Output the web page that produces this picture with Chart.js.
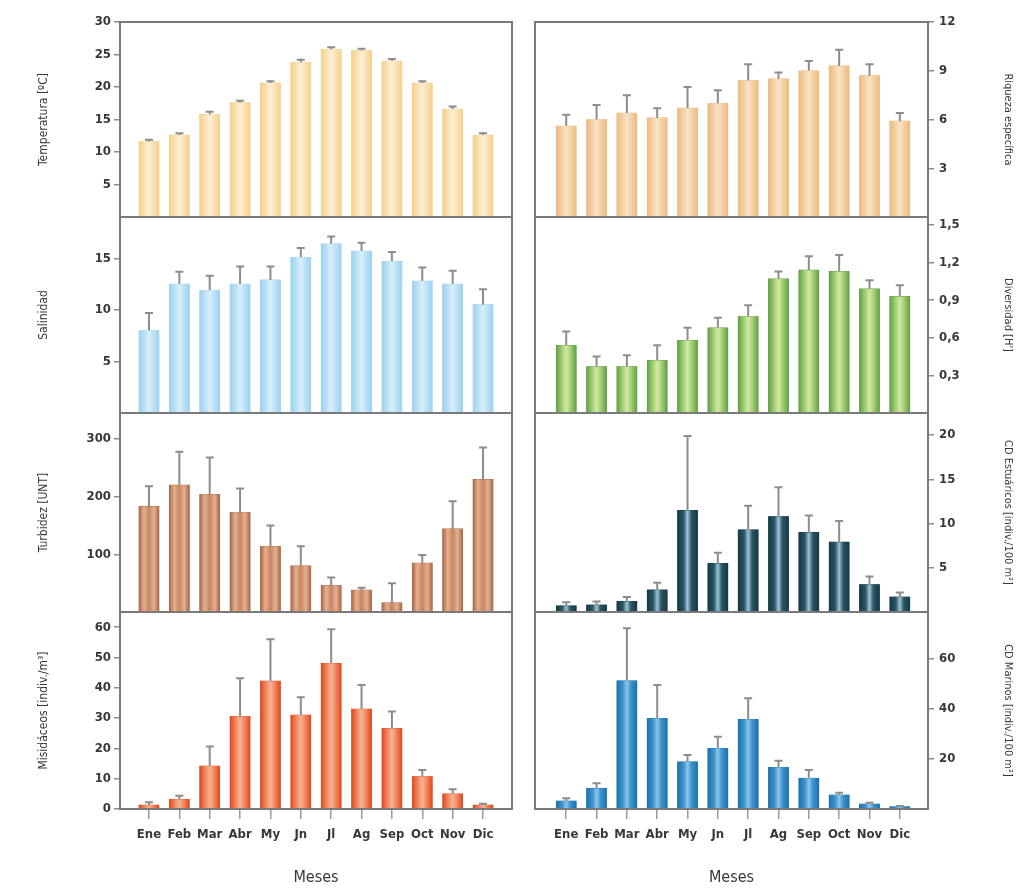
<!DOCTYPE html>
<html>
<head>
<meta charset="utf-8">
<script src="https://cdn.jsdelivr.net/npm/chart.js@4.4.1/dist/chart.umd.min.js"></script>
<style>
  html, body { margin: 0; padding: 0; background: #fff; }
  #wrap { position: relative; width: 1023px; height: 892px; overflow: hidden; }
  #wrap canvas { position: absolute; }
</style>
</head>
<body>
<div id="wrap"></div>
<script>
const months = ['Ene', 'Feb', 'Mar', 'Abr', 'My', 'Jn', 'Jl', 'Ag', 'Sep', 'Oct', 'Nov', 'Dic']

/* left column */
const temperatura = [11.6, 12.6, 15.8, 17.6, 20.6, 23.8, 25.8, 25.6, 24.0, 20.6, 16.6, 12.6]
const temperaturaErr = [0.3, 0.3, 0.4, 0.3, 0.3, 0.4, 0.3, 0.3, 0.3, 0.3, 0.4, 0.3]
const temperaturaTicks = [5, 10, 15, 20, 25, 30]

const salinidad = [8.0, 12.5, 11.9, 12.5, 12.9, 15.1, 16.4, 15.7, 14.7, 12.8, 12.5, 10.5]
const salinidadErr = [1.7, 1.2, 1.4, 1.7, 1.3, 0.9, 0.7, 0.8, 0.9, 1.3, 1.3, 1.5]
const salinidadTicks = [5, 10, 15]

const turbidez = [183, 220, 204, 173, 114, 80, 46, 38, 16, 85, 144, 230]
const turbidezErr = [35, 58, 64, 41, 36, 34, 14, 4, 34, 14, 48, 55]
const turbidezTicks = [100, 200, 300]

const misidaceos = [1.3, 3.2, 14.2, 30.5, 42.2, 31.0, 48.1, 33.0, 26.6, 10.7, 5.0, 1.3]
const misidaceosErr = [0.9, 1.2, 6.4, 12.6, 13.8, 5.9, 11.2, 7.9, 5.6, 2.2, 1.5, 0.4]
const misidaceosTicks = [0, 10, 20, 30, 40, 50, 60]

/* right column */
const riqueza = [5.6, 6.0, 6.4, 6.1, 6.7, 7.0, 8.4, 8.5, 9.0, 9.3, 8.7, 5.9]
const riquezaErr = [0.7, 0.9, 1.1, 0.6, 1.3, 0.8, 1.0, 0.4, 0.6, 1.0, 0.7, 0.5]
const riquezaTicks = [3, 6, 9, 12]

const diversidad = [0.54, 0.37, 0.37, 0.42, 0.58, 0.68, 0.77, 1.07, 1.14, 1.13, 0.99, 0.93]
const diversidadErr = [0.11, 0.08, 0.09, 0.12, 0.10, 0.08, 0.09, 0.06, 0.11, 0.13, 0.07, 0.09]
const diversidadTicks = [0.3, 0.6, 0.9, 1.2, 1.5]

const estuaricos = [0.7, 0.8, 1.2, 2.5, 11.5, 5.5, 9.3, 10.8, 9.0, 7.9, 3.1, 1.7]
const estuaricosErr = [0.4, 0.4, 0.5, 0.8, 8.4, 1.2, 2.7, 3.3, 1.9, 2.4, 0.9, 0.5]
const estuaricosTicks = [5, 10, 15, 20]

const marinos = [3.2, 8.3, 51.3, 36.3, 18.9, 24.3, 35.9, 16.7, 12.3, 5.6, 2.0, 0.9]
const marinosErr = [1.1, 2.0, 21.0, 13.3, 2.7, 4.6, 8.4, 2.6, 3.3, 0.9, 0.5, 0.3]
const marinosTicks = [20, 40, 60]

const wrap = document.getElementById('wrap')
const FONT = "'DejaVu Sans Condensed', 'Roboto', sans-serif"
const TEXT = '#383838'
const LINE = '#7a7a7a'
const PAD = 18

// page rows of the plot areas (top, height)
const rows = [[22, 195], [217, 196], [413, 199], [612, 197]]

/* bars get a light stripe down the middle, then the error whisker on top */
function barLook(p) {
    return {
        id: 'barLook',
        afterDatasetsDraw(chart) {
            const ctx = chart.ctx
            const meta = chart.getDatasetMeta(0)
            const y = chart.scales.y
            ctx.save()
            meta.data.forEach(function (bar) {
                const left = bar.x - bar.width / 2
                const g = ctx.createLinearGradient(left, 0, left + bar.width, 0)
                p.colors.forEach(function (s) { g.addColorStop(s[0], s[1]) })
                ctx.fillStyle = g
                ctx.fillRect(left, Math.min(bar.y, bar.base), bar.width, Math.abs(bar.base - bar.y))
            })
            ctx.strokeStyle = '#8d8d8d'
            ctx.lineWidth = 2
            meta.data.forEach(function (bar, i) {
                const yTop = y.getPixelForValue(p.values[i] + p.err[i])
                ctx.beginPath()
                ctx.moveTo(bar.x, bar.y)
                ctx.lineTo(bar.x, yTop)
                ctx.moveTo(bar.x - 4, yTop)
                ctx.lineTo(bar.x + 4, yTop)
                ctx.stroke()
            })
            ctx.restore()
        },
        afterDraw(chart) {
            const a = chart.chartArea
            const ctx = chart.ctx
            ctx.save()
            ctx.strokeStyle = LINE
            ctx.lineWidth = 2
            ctx.strokeRect(a.left, a.top, a.right - a.left, a.bottom - a.top)
            ctx.restore()
        }
    }
}

function panel(p) {
    const right = p.col === 1
    const last = p.row === 3
    const top = rows[p.row][0] - PAD
    const h = last ? 892 - top : rows[p.row][1] + 2 * PAD
    const w = right ? 503 : 520
    const c = document.createElement('canvas')
    c.width = w
    c.height = h
    c.style.left = (right ? 520 : 0) + 'px'
    c.style.top = top + 'px'
    wrap.appendChild(c)

    new Chart(c, {
        type: 'bar',
        data: {
            datasets: [{
                data: p.values.map(function (v, i) { return { x: i, y: v } }),
                backgroundColor: p.colors[0][1],
                borderWidth: 0,
                barThickness: 20
            }]
        },
        options: {
            responsive: false,
            animation: false,
            events: [],
            layout: {
                padding: { top: PAD, bottom: last ? 0 : PAD, left: right ? 15 : 30, right: right ? 7 : 8 }
            },
            plugins: { legend: { display: false }, tooltip: { enabled: false } },
            scales: {
                x: {
                    type: 'linear',
                    offset: false,
                    min: right ? -1.03 : -0.954,
                    max: right ? 11.93 : 11.954,
                    display: last,
                    afterBuildTicks: function (s) { s.ticks = months.map(function (m, i) { return { value: i } }) },
                    afterFit: function (s) { if (last) s.height = 83 },
                    grid: { offset: false, drawOnChartArea: false, tickLength: 10, color: '#9a9a9a', lineWidth: 1.5 },
                    border: { display: false },
                    ticks: {
                        autoSkip: false, maxRotation: 0, padding: 8, color: TEXT,
                        font: { family: FONT, size: 13, weight: 'bold' },
                        callback: function (v) { return months[v] }
                    },
                    title: {
                        display: true, text: 'Meses', color: TEXT,
                        font: { family: FONT, size: 16 },
                        padding: { top: 0, bottom: 5 }
                    }
                },
                y: {
                    position: right ? 'right' : 'left',
                    min: 0,
                    max: p.max,
                    afterBuildTicks: function (s) { s.ticks = p.ticks.map(function (v) { return { value: v } }) },
                    afterFit: function (s) { s.width = right ? 88 : 90 },
                    grid: { drawOnChartArea: false, tickLength: 6, color: '#8a8a8a', lineWidth: 1.5 },
                    border: { display: false },
                    ticks: {
                        padding: right ? 5 : 3, color: TEXT,
                        font: { family: FONT, size: 13, weight: 'bold' },
                        callback: function (v) { return String(v).replace('.', ',') }
                    },
                    title: {
                        display: true, text: p.title, color: TEXT,
                        font: { family: FONT, size: right ? 11 : 12 },
                        padding: { top: right ? 2 : 7, bottom: 0 }
                    }
                }
            }
        },
        plugins: [barLook(p)]
    })
}

panel({ col: 0, row: 0, title: 'Temperatura [ºC]', values: temperatura, err: temperaturaErr, ticks: temperaturaTicks, max: 30,
    colors: [[0, '#f5d08c'], [0.3, '#fae3b6'], [0.5, '#fdf0d6'], [0.7, '#fae3b6'], [1, '#f5d08c']] })
panel({ col: 0, row: 1, title: 'Salinidad', values: salinidad, err: salinidadErr, ticks: salinidadTicks, max: 19,
    colors: [[0, '#9dd2f0'], [0.3, '#bfe2f6'], [0.5, '#d9effb'], [0.7, '#bfe2f6'], [1, '#9dd2f0']] })
panel({ col: 0, row: 2, title: 'Turbidez [UNT]', values: turbidez, err: turbidezErr, ticks: turbidezTicks, max: 345,
    colors: [[0, '#a8684a'], [0.25, '#e6b08e'], [0.5, '#c68664'], [0.75, '#e6b08e'], [1, '#a8684a']] })
panel({ col: 0, row: 3, title: 'Misidáceos [indiv./m³]', values: misidaceos, err: misidaceosErr, ticks: misidaceosTicks, max: 65,
    colors: [[0, '#e04a22'], [0.3, '#f28c63'], [0.5, '#f7b394'], [0.7, '#f28c63'], [1, '#e04a22']] })

panel({ col: 1, row: 0, title: 'Riqueza específica', values: riqueza, err: riquezaErr, ticks: riquezaTicks, max: 12,
    colors: [[0, '#ecbb80'], [0.3, '#f4d3a8'], [0.5, '#f9e4c8'], [0.7, '#f4d3a8'], [1, '#ecbb80']] })
panel({ col: 1, row: 1, title: "Diversidad [H']", values: diversidad, err: diversidadErr, ticks: diversidadTicks, max: 1.564,
    colors: [[0, '#62a046'], [0.3, '#a8d07a'], [0.5, '#d3e9a4'], [0.7, '#a8d07a'], [1, '#62a046']] })
panel({ col: 1, row: 2, title: 'CD Estuáricos [indiv./100 m²]', values: estuaricos, err: estuaricosErr, ticks: estuaricosTicks, max: 22.5,
    colors: [[0, '#143a46'], [0.3, '#2b5563'], [0.5, '#9cc3d8'], [0.7, '#2b5563'], [1, '#143a46']] })
panel({ col: 1, row: 3, title: 'CD Marinos [indiv./100 m²]', values: marinos, err: marinosErr, ticks: marinosTicks, max: 78.8,
    colors: [[0, '#1a72ad'], [0.3, '#3f93cb'], [0.5, '#8cc6ea'], [0.7, '#3f93cb'], [1, '#1a72ad']] })
</script>
</body>
</html>
